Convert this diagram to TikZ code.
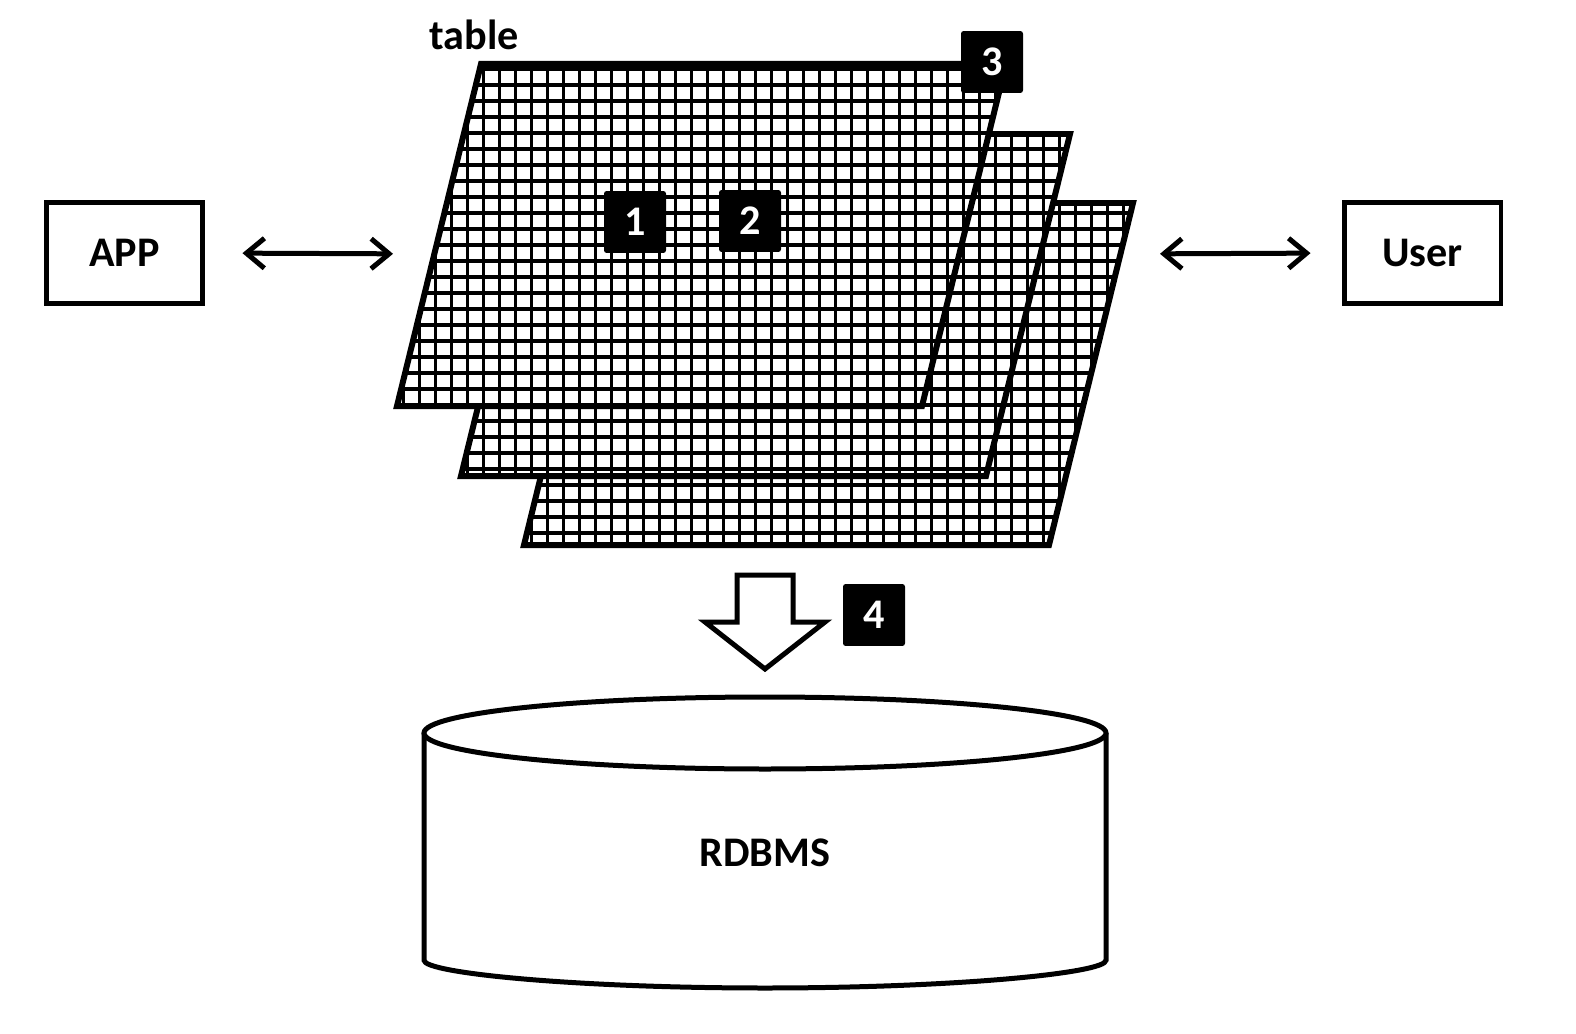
\documentclass[tikz,border=0pt]{standalone}
\usepackage{fontspec}
\setmainfont{Carlito}
\usetikzlibrary{arrows.meta}

\begin{document}
\begin{tikzpicture}[
	x=0.02cm,
	y=-0.02cm,
	every node/.style={
		font=\bfseries\fontsize{24}{28}\selectfont
	},
	endpoint/.style={
		rectangle,
		draw=black,
		line width=0.1cm,
		align=center,
		minimum width=3.14cm,
		minimum height=2.04cm
	},
	badge/.style={
		rectangle,
		fill=black,
		text=white,
		rounded corners=1.5pt,
		inner sep=0pt,
		minimum size=1.24cm
	},
	gridline/.style={
		line width=0.07cm
	},
	border/.style={
		line width=0.12cm,
		line join=miter
	},
	link/.style={
		line width=0.1cm,
		line cap=round,
		{Straight Barb[length=0.36cm, width=0.6cm]}-{Straight Barb[length=0.36cm, width=0.6cm]}
	},
]

\useasboundingbox (0,0) rectangle (1576,1034);

% Table sheets, back to front
\foreach \dx/\dy in {127/139, 64/70, 0/0} {
	\coordinate (bl) at ({397+\dx},{406+\dy});
	\coordinate (br) at ({922+\dx},{406+\dy});
	\coordinate (tr) at ({1006+\dx},{64+\dy});
	\coordinate (tl) at ({481+\dx},{64+\dy});
	\fill[white] (bl) -- (br) -- (tr) -- (tl) -- cycle;
	\begin{scope}
		\clip (bl) -- (br) -- (tr) -- (tl) -- cycle;
		\foreach \gx in {387.7,403.7,...,1141} {
			\draw[gridline] (\gx,40) -- (\gx,560);
		}
		\foreach \gy in {53,69,...,551} {
			\draw[gridline] (380,\gy) -- (1150,\gy);
		}
	\end{scope}
	\draw[border] (bl) -- (br) -- (tr) -- (tl) -- cycle;
}

\node (tablelabel) at (474,35) {table};

% Markers
\node[badge] (b1) at (635,222) {1};
\node[badge] (b2) at (750,221) {2};
\node[badge] (b3) at (992,62) {3};

% Outside
\node[endpoint] (app) at (124.5,253) {APP};
\node[endpoint] (user) at (1422.5,253) {User};

\coordinate (stackW) at (434,254);
\coordinate (stackE) at (1120,254);

\draw[link, shorten <=0.74cm, shorten >=0.82cm] (app.east) -- (stackW);
\draw[link, shorten <=0.8cm, shorten >=0.62cm] (stackE) -- (user.west);

% Store
\draw[line width=0.1cm, line join=miter] (737,575) -- (793,575) -- (793,622) -- (825,622)
	-- (765,669) -- (705,622) -- (737,622) -- cycle;
\node[badge] (b4) at (874,615) {4};

\draw[line width=0.1cm, rounded corners=3pt] (424,733) -- (424,955)
	arc[start angle=180, end angle=0, x radius=341, y radius=33] -- (1106,733);
\draw[line width=0.1cm, fill=white] (765,733) ellipse [x radius=341, y radius=36];
\node (rdbms) at (765,853) {RDBMS};

\end{tikzpicture}
\end{document}
